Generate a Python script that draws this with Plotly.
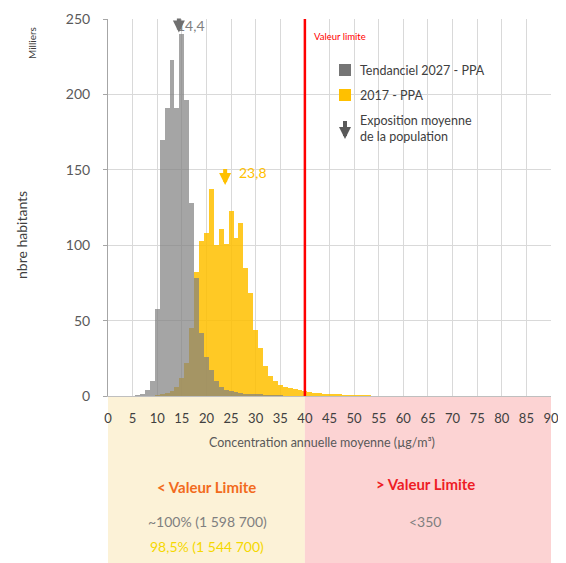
import plotly.graph_objects as go

# ---------------- data ----------------
bins = list(range(6, 56))  # concentration bin centres (µg/m³), width 1

pop_2027 = [0.5, 1.5, 4, 10, 58, 170, 191, 223, 191, 240, 196, 128, 78, 42, 26, 17, 10, 6, 4, 3,
            2.5, 2, 1.5, 1, 1, 0.7, 0.5, 0.4, 0.3, 0.2, 0, 0, 0, 0, 0, 0, 0, 0, 0, 0,
            0, 0, 0, 0, 0, 0, 0, 0, 0, 0]
pop_2017 = [0, 0, 0, 0, 0.5, 1, 2, 3, 6, 12, 22, 45, 82, 103, 108, 137, 100, 111, 101, 123,
            105, 115, 85, 68, 44, 32, 20, 13, 10, 7, 6, 5, 4.5, 4, 3, 2.5, 2, 2, 1.5, 1.2,
            1, 0.8, 0.6, 0.5, 0.4, 0.3, 0.2, 0.1, 0, 0]

mean_2027 = 14.4
mean_2017 = 23.8
limit_value = 40

x_ticks = list(range(0, 91, 5))
y_ticks = list(range(0, 251, 50))

name_2027 = "Tendanciel 2027 - PPA"
name_2017 = "2017 - PPA"

# ---------------- figure ----------------
# the page body adds an 8px offset, so the figure is 8px smaller than the window
FONT = "Lato"
OFF = 8
W, H = 566 - OFF, 563 - OFF
L, R, T, B = 100, 15, 11, 167
pw, ph = W - L - R, H - T - B


def px(xp):  # reference-window pixel -> paper x
    return (xp - OFF - L) / pw


def py(yp):  # reference-window pixel -> paper y
    return (H - B - (yp - OFF)) / ph


fig = go.Figure()
fig.add_trace(go.Bar(x=bins, y=pop_2017, width=1, name=name_2017,
                     marker=dict(color="#FFC000", line=dict(width=0)),
                     opacity=0.85, showlegend=False))
fig.add_trace(go.Bar(x=bins, y=pop_2027, width=1, name=name_2027,
                     marker=dict(color="#808080", line=dict(width=0)),
                     opacity=0.7, showlegend=False))

shapes = []
# bottom background zones
shapes.append(dict(type="rect", xref="x", yref="paper", x0=0, x1=limit_value,
                   y0=-B / ph, y1=0, fillcolor="#FCF2D7", line=dict(width=0), layer="below"))
shapes.append(dict(type="rect", xref="x", yref="paper", x0=limit_value, x1=90,
                   y0=-B / ph, y1=0, fillcolor="#FCD3D3", line=dict(width=0), layer="below"))
# limit line
shapes.append(dict(type="line", xref="x", yref="paper", x0=limit_value, x1=limit_value,
                   y0=0, y1=1, line=dict(color="#FF0000", width=2.5)))
# legend swatches
shapes.append(dict(type="rect", xref="paper", yref="paper", x0=px(339), x1=px(351),
                   y0=py(76), y1=py(64), fillcolor="#757575", line=dict(width=0)))
shapes.append(dict(type="rect", xref="paper", yref="paper", x0=px(339), x1=px(351),
                   y0=py(101), y1=py(89), fillcolor="#FFC000", line=dict(width=0)))


def txt(text, x, y, size, color, xanchor="center", **kw):
    return dict(text=text, xref="paper", yref="paper", x=px(x), y=py(y),
                xanchor=xanchor, yanchor="middle", showarrow=False,
                font=dict(family=FONT, size=size, color=color), **kw)


ann = []
# y-axis titles
ann.append(txt("nbre habitants", 22, 235, 14, "#404040", textangle=-90))
ann.append(txt("Milliers", 32, 43, 10, "#404040", textangle=-90))
# x-axis title
ann.append(txt("Concentration annuelle moyenne (µg/m³)", 322, 442, 12.5, "#595959"))
# limit label
ann.append(dict(text="Valeur limite", xref="x", yref="paper", x=limit_value, xshift=7,
                y=py(37), xanchor="left", yanchor="middle", showarrow=False,
                font=dict(family=FONT, size=9.5, color="#FF0000")))
# mean exposure labels
ann.append(dict(text="14,4", xref="x", yref="y", x=mean_2027, y=246, xanchor="left", xshift=-4,
                yanchor="middle", showarrow=False, font=dict(family=FONT, size=14, color="#7F7F7F")))
ann.append(dict(text="23,8", xref="x", yref="y", x=mean_2017, y=148, xanchor="left", xshift=12,
                yanchor="middle", showarrow=False, font=dict(family=FONT, size=14, color="#FFC000")))
ann.append(dict(text=" ", xref="x", yref="y", x=mean_2027, y=241, ax=0, ay=-23,
                showarrow=True, arrowhead=2, arrowsize=0.6, arrowwidth=4, arrowcolor="#6F6F6F"))
ann.append(dict(text=" ", xref="x", yref="y", x=mean_2017, y=140, ax=0, ay=-25,
                showarrow=True, arrowhead=2, arrowsize=0.6, arrowwidth=4, arrowcolor="#FFC000"))
# legend
ann.append(txt(name_2027, 358, 70, 12.5, "#404040", xanchor="left"))
ann.append(txt(name_2017, 358, 95, 12.5, "#404040", xanchor="left"))
ann.append(txt("Exposition moyenne<br>de la population", 358, 129, 12.5, "#404040",
               xanchor="left", align="left"))
ann.append(dict(text=" ", xref="paper", yref="paper", x=px(345), y=py(139), ax=0, ay=-27,
                showarrow=True, arrowhead=2, arrowsize=0.6, arrowwidth=4, arrowcolor="#595959"))
# bottom zone texts
ann.append(txt("<b>< Valeur Limite</b>", 206, 487, 15, "#F26B1D"))
ann.append(txt("<b>> Valeur Limite</b>", 425, 484, 15, "#EE1C25"))
ann.append(txt("~100% (1 598 700)", 207, 521, 14, "#7F7F7F"))
ann.append(txt("98,5% (1 544 700)", 207, 546, 14, "#F5D800"))
ann.append(txt("<350", 425, 521, 14, "#7F7F7F"))

fig.update_layout(
    width=W, height=H,
    margin=dict(l=L, r=R, t=T, b=B, pad=0, autoexpand=False),
    paper_bgcolor="white", plot_bgcolor="white",
    barmode="overlay", bargap=0,
    font=dict(family=FONT),
    shapes=shapes, annotations=ann,
    showlegend=False,
)
fig.update_xaxes(range=[0, 90], tickvals=x_ticks, ticktext=[str(v) for v in x_ticks],
                 automargin=False,
                 showgrid=True, gridcolor="#D9D9D9", gridwidth=1,
                 showline=True, linecolor="#BFBFBF", linewidth=1, zeroline=False,
                 ticks="", ticklabelstandoff=10,
                 tickfont=dict(family=FONT, size=13, color="#404040"))
fig.update_yaxes(range=[0, 250], tickvals=y_ticks, automargin=False,
                 showgrid=True, gridcolor="#D9D9D9", gridwidth=1,
                 showline=True, linecolor="#A6A6A6", linewidth=1, zeroline=False,
                 ticks="outside", ticklen=4, tickcolor="#A6A6A6", ticklabelstandoff=10,
                 tickfont=dict(family=FONT, size=14, color="#595959"))

fig.write_html("out.html")
